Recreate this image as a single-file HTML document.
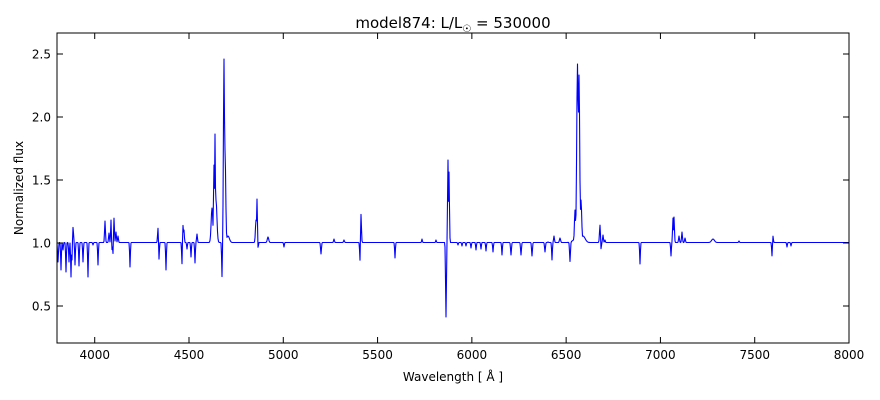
<!DOCTYPE html>
<html><head><meta charset="utf-8"><style>
body{margin:0;background:#fff;width:880px;height:400px;overflow:hidden}
svg{display:block;font-family:"DejaVu Sans","Liberation Sans",sans-serif}
</style></head><body>
<svg id="s" width="880" height="400" xmlns="http://www.w3.org/2000/svg">
<rect width="880" height="400" fill="#fff"/>
<path id="spec" d="" fill="none" stroke="#0000ff" stroke-width="1.1" stroke-linejoin="round"/>
<rect x="57" y="33" width="792" height="310" fill="none" stroke="#000" stroke-width="1"/>
<g id="ticks" stroke="#000" stroke-width="1"></g>
<g font-size="12" fill="#000" id="lbl"></g>
<text x="453" y="28" font-size="15" text-anchor="middle">model874: L/L<tspan font-size="10" dy="4">☉</tspan><tspan dy="-4"> = 530000</tspan></text>
<text x="453" y="381" font-size="12" text-anchor="middle">Wavelength [ Å ]</text>
<text transform="translate(23,188) rotate(-90)" font-size="12" text-anchor="middle">Normalized flux</text>
</svg>
<script>
var B=242.5;
var F=[[58,262,.6],[61,270,.5],[63,250,.5],[66,272,.5],[69,262,.5],[71,277,.5],[72,262,.5],[73,227,.7],[74,240,.5],[75,265,.5],[79,266,.5],[83,262,.5],[88,277,.5],[93,245,.5],[98,265,.5],
[105,221,.6],[109,233,.6],[111,220,.5],[112,250,.5],[113,255,.5],[114,218,.6],[116,232,.6],[118,236,.6],[130,267,.5],
[158,228,.6],[159,260,.5],[166,270,.5],[182,266,.5],[183,225,.7],[184,230,.5],[187,249,.5],[191,257,.5],[195,263,.5],[197,234,.6],
[212,208,1.2],[214,165,.7],[215,134,.6],[216,200,1.3],[222,277,.5],[224,59,.8],[225,150,1],[228,236,2],
[256,220,.8],[257,199,.6],[258,250,.5],[268,237,1],[284,247,.5],[321,254,.6],[334,239,.6],[344,240,.6],[360,262,.5],[361,214,.6],
[395,258,.5],[422,239,.5],[436,240,.5],[446,317,.6],[448,160,.6],[449,172,.6],[458,245,.5],[462,246,.5],[466,246,.5],[471,248,.5],[476,250,.5],[481,249,.5],[486,251,.5],[493,252,.5],[502,255,.5],[511,255,.6],[521,255,.6],[532,256,.6],[545,252,.6],[548,242,.5],[552,260,.5],[554,236,.6],[560,238,.8],
[570,262,.6],[575,210,.8],[577.5,64,1.1],[579,75,1],[581,200,1],[583,236,3],
[600,225,.7],[601,251,.5],[603,235,.6],[605,240,.5],[640,264,.5],[671,256,.5],[673,218,.6],[674,217,.6],[679,236,.6],[682,232,.6],[685,238,.6],[713,239,2],[739,241,.5],[772,256,.5],[773,236,.5],[787,247,.5],[791,246,.5]];
var d="";
for(var x=57;x<=849;x+=0.5){
 var up=0,dn=0;
 up=Math.min(up,-6*Math.exp(-Math.pow((x-578)/5,2)));
 for(var i=0;i<F.length;i++){var f=F[i];var t=(x-f[0])/f[2];if(Math.abs(t)<4){var v=(f[1]-B)*Math.exp(-t*t);if(v<up)up=v;if(v>dn)dn=v;}}
 var y=B+up+dn;
 d+=(d?"L":"M")+x.toFixed(1)+" "+y.toFixed(1);
}
document.getElementById("spec").setAttribute("d",d);
var tk=document.getElementById("ticks"),lb=document.getElementById("lbl"),h="",l="";
for(var w=4000;w<=8000;w+=500){var px=57+(w-3800)*792/4200;h+='<line x1="'+px+'" y1="343" x2="'+px+'" y2="337"/><line x1="'+px+'" y1="33" x2="'+px+'" y2="39"/>';l+='<text x="'+px+'" y="359" text-anchor="middle">'+w+'</text>';}
for(var v=0.5;v<=2.51;v+=0.5){var py=306-(v-0.5)*126;h+='<line x1="57" y1="'+py+'" x2="63" y2="'+py+'"/><line x1="849" y1="'+py+'" x2="843" y2="'+py+'"/>';l+='<text x="51" y="'+(py+4.5)+'" text-anchor="end">'+v.toFixed(1)+'</text>';}
tk.innerHTML=h;lb.innerHTML=l;
</script>
</body></html>
